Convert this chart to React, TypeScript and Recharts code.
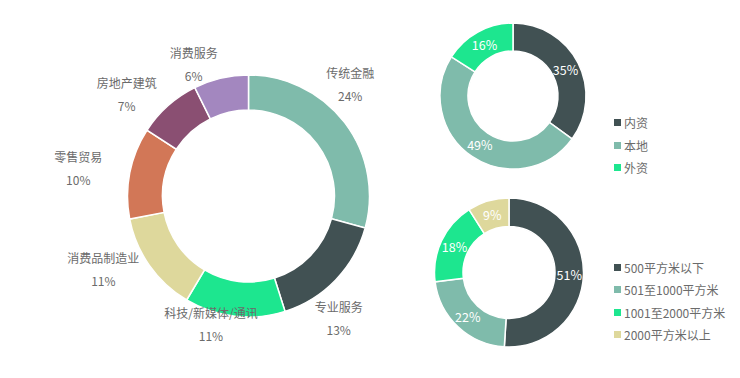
import { PieChart, Pie, Cell, Legend } from "recharts";

// 行业分布 (values are shares of the whole sample, they don't add up to 100)
const industryNames = [
  "传统金融",
  "专业服务",
  "科技/新媒体/通讯",
  "消费品制造业",
  "零售贸易",
  "房地产建筑",
  "消费服务",
];
const industryValues = [24, 13, 11, 11, 10, 7, 6];
const industryColors = [
  "#7fbbab",
  "#415153",
  "#1de68f",
  "#ded89c",
  "#d27757",
  "#8a4f72",
  "#a387bf",
];

// 资本来源
const sourceNames = ["内资", "本地", "外资"];
const sourceValues = [35, 49, 16];
const sourceColors = ["#415153", "#7fbbab", "#1de68f"];

// 办公面积
const areaNames = ["500平方米以下", "501至1000平方米", "1001至2000平方米", "2000平方米以上"];
const areaValues = [51, 22, 18, 9];
const areaColors = ["#415153", "#7fbbab", "#1de68f", "#ded89c"];

const RADIAN = Math.PI / 180;
const FONT = '"Noto Sans CJK SC", "Noto Sans", sans-serif';
const TEXT_GREY = "#6b6b6b";
const NO_MARGIN = { top: 0, right: 0, bottom: 0, left: 0 };

const industryData = industryNames.map((name, i) => ({ name, value: industryValues[i] }));
const sourceData = sourceNames.map((name, i) => ({ name, value: sourceValues[i] }));
const areaData = areaNames.map((name, i) => ({ name, value: areaValues[i] }));

// name + value on two lines, pushed out from the ring
// (right-hand labels sit further up/down than the left ones)
const renderOuterLabel = (props: any) => {
  const { cx, cy, midAngle, name, value } = props;
  const cos = Math.cos(-midAngle * RADIAN);
  const sin = Math.sin(-midAngle * RADIAN);
  const ry = cos > 0 ? 180 : 132;
  const x = cx - 20 + 153 * cos;
  const y = cy - 3 + ry * sin;
  return (
    <text x={x} y={y} fill={TEXT_GREY} fontSize={12} fontFamily={FONT} textAnchor="middle">
      <tspan x={x} y={y - 11.5} dominantBaseline="central">
        {name}
      </tspan>
      <tspan x={x} y={y + 11.5} dominantBaseline="central">
        {value}%
      </tspan>
    </text>
  );
};

// percentage sitting in the middle of the ring
const renderInnerLabel = (props: any) => {
  const { cx, cy, midAngle, innerRadius, outerRadius, value } = props;
  const r = (innerRadius + outerRadius) / 2;
  const x = cx + r * Math.cos(-midAngle * RADIAN);
  const y = cy + r * Math.sin(-midAngle * RADIAN);
  return (
    <text
      x={x}
      y={y}
      fill="#ffffff"
      fontSize={12.5}
      fontFamily={FONT}
      textAnchor="middle"
      dominantBaseline="central"
    >
      {value}%
    </text>
  );
};

// legend keeps the data order (recharts would sort it by name)
const makeLegend = (names: string[], colors: string[]) => () => (
  <ul style={{ listStyle: "none", margin: 0, padding: 0 }}>
    {names.map((name, i) => (
      <li
        key={name}
        style={{
          display: "flex",
          alignItems: "center",
          height: 22.5,
          fontSize: 12,
          color: TEXT_GREY,
          fontFamily: FONT,
          whiteSpace: "nowrap",
        }}
      >
        <span
          style={{
            display: "inline-block",
            width: 7,
            height: 7,
            background: colors[i],
            marginRight: 3,
          }}
        />
        {name}
      </li>
    ))}
  </ul>
);

export default function App() {
  return (
    <div
      style={{
        position: "absolute",
        left: 0,
        top: 0,
        width: 740,
        height: 378,
        background: "#ffffff",
        fontFamily: FONT,
      }}
    >
      <div style={{ position: "absolute", left: 0, top: 0 }}>
        <PieChart width={420} height={378} margin={NO_MARGIN}>
          <Pie
            data={industryData}
            dataKey="value"
            nameKey="name"
            cx={248.5}
            cy={196}
            innerRadius={86}
            outerRadius={121}
            startAngle={90}
            endAngle={-270}
            stroke="#ffffff"
            strokeWidth={1.5}
            label={renderOuterLabel}
            labelLine={false}
            isAnimationActive={false}
          >
            {industryData.map((d, i) => (
              <Cell key={d.name} fill={industryColors[i]} />
            ))}
          </Pie>
        </PieChart>
      </div>

      <div style={{ position: "absolute", left: 420, top: 0 }}>
        <PieChart width={320} height={190} margin={NO_MARGIN}>
          <Pie
            data={sourceData}
            dataKey="value"
            nameKey="name"
            cx={93}
            cy={96}
            innerRadius={45}
            outerRadius={73}
            startAngle={90}
            endAngle={-270}
            stroke="#ffffff"
            strokeWidth={1.5}
            label={renderInnerLabel}
            labelLine={false}
            isAnimationActive={false}
          >
            {sourceData.map((d, i) => (
              <Cell key={d.name} fill={sourceColors[i]} />
            ))}
          </Pie>
          <Legend
            layout="vertical"
            align="right"
            verticalAlign="top"
            content={makeLegend(sourceNames, sourceColors)}
            wrapperStyle={{ left: 194, right: "auto", top: 111.5, width: "auto" }}
          />
        </PieChart>
      </div>

      <div style={{ position: "absolute", left: 420, top: 185 }}>
        <PieChart width={320} height={193} margin={NO_MARGIN}>
          <Pie
            data={areaData}
            dataKey="value"
            nameKey="name"
            cx={89}
            cy={87.5}
            innerRadius={46}
            outerRadius={74.5}
            startAngle={90}
            endAngle={-270}
            stroke="#ffffff"
            strokeWidth={1.5}
            label={renderInnerLabel}
            labelLine={false}
            isAnimationActive={false}
          >
            {areaData.map((d, i) => (
              <Cell key={d.name} fill={areaColors[i]} />
            ))}
          </Pie>
          <Legend
            layout="vertical"
            align="right"
            verticalAlign="top"
            content={makeLegend(areaNames, areaColors)}
            wrapperStyle={{ left: 194, right: "auto", top: 71, width: "auto" }}
          />
        </PieChart>
      </div>
    </div>
  );
}
